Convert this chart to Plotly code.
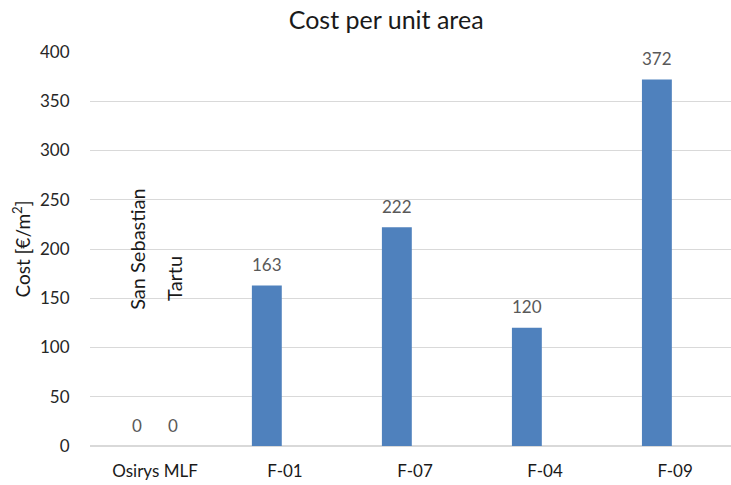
import plotly.graph_objects as go

# Data
categories = ["Osirys MLF", "F-01", "F-07", "F-04", "F-09"]
cost_main = [0, 163, 222, 120, 372]      # €/m², first series
cost_tartu = [0]                          # €/m², second series (Osirys MLF only)
site_labels = ["San Sebastian", "Tartu"]
site_label_y = [136, 145]                 # where the rotated site names start

BAR_COLOR = "#4F81BD"
FONT = "Lato"
BAR_W = 0.23
OFFSETS = [-0.255, 0.025]

x_main = list(range(len(categories)))
x_tartu = [0]

fig = go.Figure()
fig.add_trace(go.Bar(
    x=x_main, y=cost_main, name=site_labels[0],
    width=BAR_W, offset=OFFSETS[0],
    marker=dict(color=BAR_COLOR, line=dict(width=0)),
))
fig.add_trace(go.Bar(
    x=x_tartu, y=cost_tartu, name=site_labels[1],
    width=BAR_W, offset=OFFSETS[1],
    marker=dict(color=BAR_COLOR, line=dict(width=0)),
))

annotations = []
# value labels above each bar
for xs, ys, off in [(x_main, cost_main, OFFSETS[0]), (x_tartu, cost_tartu, OFFSETS[1])]:
    for xv, yv in zip(xs, ys):
        annotations.append(dict(
            x=xv + off + BAR_W / 2, y=yv, xref="x", yref="y",
            text=str(yv), showarrow=False, yanchor="middle", yshift=21,
            font=dict(family=FONT, size=17, color="#595959"),
        ))
# rotated site names over the Osirys MLF bars
for name, off, yb in zip(site_labels, OFFSETS, site_label_y):
    annotations.append(dict(
        x=0 + off + BAR_W / 2, y=yb, xref="x", yref="y",
        text=name, showarrow=False, textangle=-90,
        xanchor="center", yanchor="bottom",
        font=dict(family=FONT, size=20, color="#1a1a1a"),
    ))

fig.update_layout(
    width=731, height=485,
    margin=dict(l=90, r=0, t=52, b=39),
    paper_bgcolor="white", plot_bgcolor="white",
    showlegend=False,
    font=dict(family=FONT, size=17, color="#404040"),
    title=dict(text="Cost per unit area", x=0.462, xref="paper", xanchor="center",
               y=0.958, yanchor="middle", yref="container",
               font=dict(family=FONT, size=25, color="#1a1a1a")),
    annotations=annotations,
)
fig.update_xaxes(
    range=[-0.5, 4.43], tickmode="array", tickvals=x_main, ticktext=categories,
    showgrid=False, zeroline=False, showline=False,
    ticks="outside", ticklen=10, tickcolor="rgba(0,0,0,0)",
    tickfont=dict(family=FONT, size=17, color="#1a1a1a"),
)
fig.update_yaxes(
    range=[0, 400], dtick=50, showgrid=True, gridcolor="#D9D9D9", gridwidth=1,
    zeroline=True, zerolinecolor="#D9D9D9", zerolinewidth=2, showline=False,
    ticks="outside", ticklen=16, tickcolor="rgba(0,0,0,0)",
    tickfont=dict(family=FONT, size=17, color="#262626"),
    title=dict(text="Cost [€/m<sup>2</sup>]", standoff=4,
               font=dict(family=FONT, size=19, color="#1a1a1a")),
)

fig.write_html("out.html")
